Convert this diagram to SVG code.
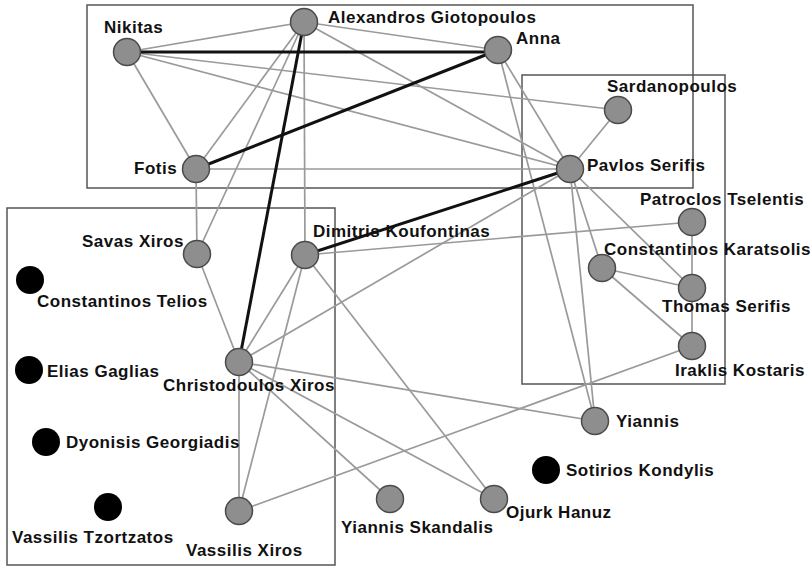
<svg xmlns="http://www.w3.org/2000/svg" width="811" height="566" viewBox="0 0 811 566">
  <style>
    .frame { fill: none; stroke: #555; stroke-width: 1.5; }
    .link { stroke: #9a9a9a; stroke-width: 1.7; }
    .strong { stroke: #111; stroke-width: 3; }
    .member { fill: #8e8e8e; stroke: #4a4a4a; stroke-width: 1.5; }
    .isolated { fill: #000; }
    text { font-family: "Liberation Sans", Arial, sans-serif; font-weight: bold; font-size: 17px; letter-spacing: 0.5px; fill: #111; }
  </style>
  <rect width="811" height="566" fill="#fff"/>

  <!-- cluster frames -->
  <g id="frames">
    <rect class="frame" x="87" y="5" width="606" height="183"/>
    <rect class="frame" x="522" y="75" width="203" height="309"/>
    <rect class="frame" x="7" y="208" width="328" height="357"/>
  </g>

  <!-- connectors -->
  <g id="connectors">
    <line class="link" x1="127" y1="52" x2="304" y2="22"/>
    <line class="link" x1="127" y1="52" x2="196" y2="169"/>
    <line class="link" x1="127" y1="52" x2="618" y2="110"/>
    <line class="link" x1="127" y1="52" x2="570" y2="169"/>
    <line class="link" x1="304" y1="22" x2="498" y2="50"/>
    <line class="link" x1="304" y1="22" x2="570" y2="169"/>
    <line class="link" x1="304" y1="22" x2="196" y2="169"/>
    <line class="link" x1="304" y1="22" x2="197" y2="254"/>
    <line class="link" x1="304" y1="22" x2="305" y2="255"/>
    <line class="link" x1="498" y1="50" x2="570" y2="169"/>
    <line class="link" x1="498" y1="50" x2="595" y2="421"/>
    <line class="link" x1="196" y1="169" x2="570" y2="169"/>
    <line class="link" x1="196" y1="169" x2="197" y2="254"/>
    <line class="link" x1="618" y1="110" x2="570" y2="169"/>
    <line class="link" x1="570" y1="169" x2="602" y2="268"/>
    <line class="link" x1="570" y1="169" x2="692" y2="288"/>
    <line class="link" x1="570" y1="169" x2="595" y2="421"/>
    <line class="link" x1="570" y1="169" x2="239" y2="362"/>
    <line class="link" x1="692" y1="222" x2="692" y2="288"/>
    <line class="link" x1="692" y1="288" x2="692" y2="346"/>
    <line class="link" x1="602" y1="268" x2="692" y2="288"/>
    <line class="link" x1="602" y1="268" x2="692" y2="346"/>
    <line class="link" x1="305" y1="255" x2="692" y2="222"/>
    <line class="link" x1="305" y1="255" x2="239" y2="362"/>
    <line class="link" x1="305" y1="255" x2="239" y2="511"/>
    <line class="link" x1="305" y1="255" x2="494" y2="499"/>
    <line class="link" x1="197" y1="254" x2="239" y2="362"/>
    <line class="link" x1="239" y1="362" x2="239" y2="511"/>
    <line class="link" x1="239" y1="362" x2="595" y2="421"/>
    <line class="link" x1="239" y1="362" x2="494" y2="499"/>
    <line class="link" x1="239" y1="362" x2="390" y2="499"/>
    <line class="link" x1="239" y1="511" x2="692" y2="346"/>
    <line class="strong" x1="127" y1="52" x2="498" y2="52"/>
    <line class="strong" x1="196" y1="169" x2="498" y2="50"/>
    <line class="strong" x1="304" y1="22" x2="239" y2="362"/>
    <line class="strong" x1="305" y1="255" x2="570" y2="169"/>
  </g>

  <!-- people -->
  <g id="nikitas"><circle class="member" cx="127" cy="52" r="13.5"/><text x="104" y="33">Nikitas</text></g>
  <g id="alexandros-giotopoulos"><circle class="member" cx="304" cy="22" r="13.5"/><text x="328" y="23">Alexandros Giotopoulos</text></g>
  <g id="anna"><circle class="member" cx="498" cy="50" r="13.5"/><text x="516" y="44">Anna</text></g>
  <g id="fotis"><circle class="member" cx="196" cy="169" r="13.5"/><text x="134" y="174">Fotis</text></g>
  <g id="sardanopoulos"><circle class="member" cx="618" cy="110" r="13.5"/><text x="607" y="92">Sardanopoulos</text></g>
  <g id="pavlos-serifis"><circle class="member" cx="570" cy="169" r="13.5"/><text x="587" y="171">Pavlos Serifis</text></g>
  <g id="patroclos-tselentis"><circle class="member" cx="692" cy="222" r="13.5"/><text x="640" y="205">Patroclos Tselentis</text></g>
  <g id="constantinos-karatsolis"><circle class="member" cx="602" cy="268" r="13.5"/><text x="604" y="255">Constantinos Karatsolis</text></g>
  <g id="thomas-serifis"><circle class="member" cx="692" cy="288" r="13.5"/><text x="662" y="312">Thomas Serifis</text></g>
  <g id="iraklis-kostaris"><circle class="member" cx="692" cy="346" r="13.5"/><text x="675" y="376">Iraklis Kostaris</text></g>
  <g id="savas-xiros"><circle class="member" cx="197" cy="254" r="13.5"/><text x="82" y="247">Savas Xiros</text></g>
  <g id="dimitris-koufontinas"><circle class="member" cx="305" cy="255" r="13.5"/><text x="313" y="237">Dimitris Koufontinas</text></g>
  <g id="constantinos-telios"><circle class="isolated" cx="30" cy="280" r="14"/><text x="37" y="307">Constantinos Telios</text></g>
  <g id="elias-gaglias"><circle class="isolated" cx="29" cy="370" r="14"/><text x="47" y="377">Elias Gaglias</text></g>
  <g id="christodoulos-xiros"><circle class="member" cx="239" cy="362" r="13.5"/><text x="163" y="391">Christodoulos Xiros</text></g>
  <g id="dyonisis-georgiadis"><circle class="isolated" cx="46" cy="442" r="14"/><text x="66" y="448">Dyonisis Georgiadis</text></g>
  <g id="vassilis-tzortzatos"><circle class="isolated" cx="108" cy="507" r="14"/><text x="12" y="543">Vassilis Tzortzatos</text></g>
  <g id="vassilis-xiros"><circle class="member" cx="239" cy="511" r="13.5"/><text x="186" y="556">Vassilis Xiros</text></g>
  <g id="yiannis-skandalis"><circle class="member" cx="390" cy="499" r="13.5"/><text x="341" y="533">Yiannis Skandalis</text></g>
  <g id="ojurk-hanuz"><circle class="member" cx="494" cy="499" r="13.5"/><text x="506" y="518">Ojurk Hanuz</text></g>
  <g id="sotirios-kondylis"><circle class="isolated" cx="546" cy="470" r="14"/><text x="566" y="476">Sotirios Kondylis</text></g>
  <g id="yiannis"><circle class="member" cx="595" cy="421" r="13.5"/><text x="616" y="427">Yiannis</text></g>
</svg>
